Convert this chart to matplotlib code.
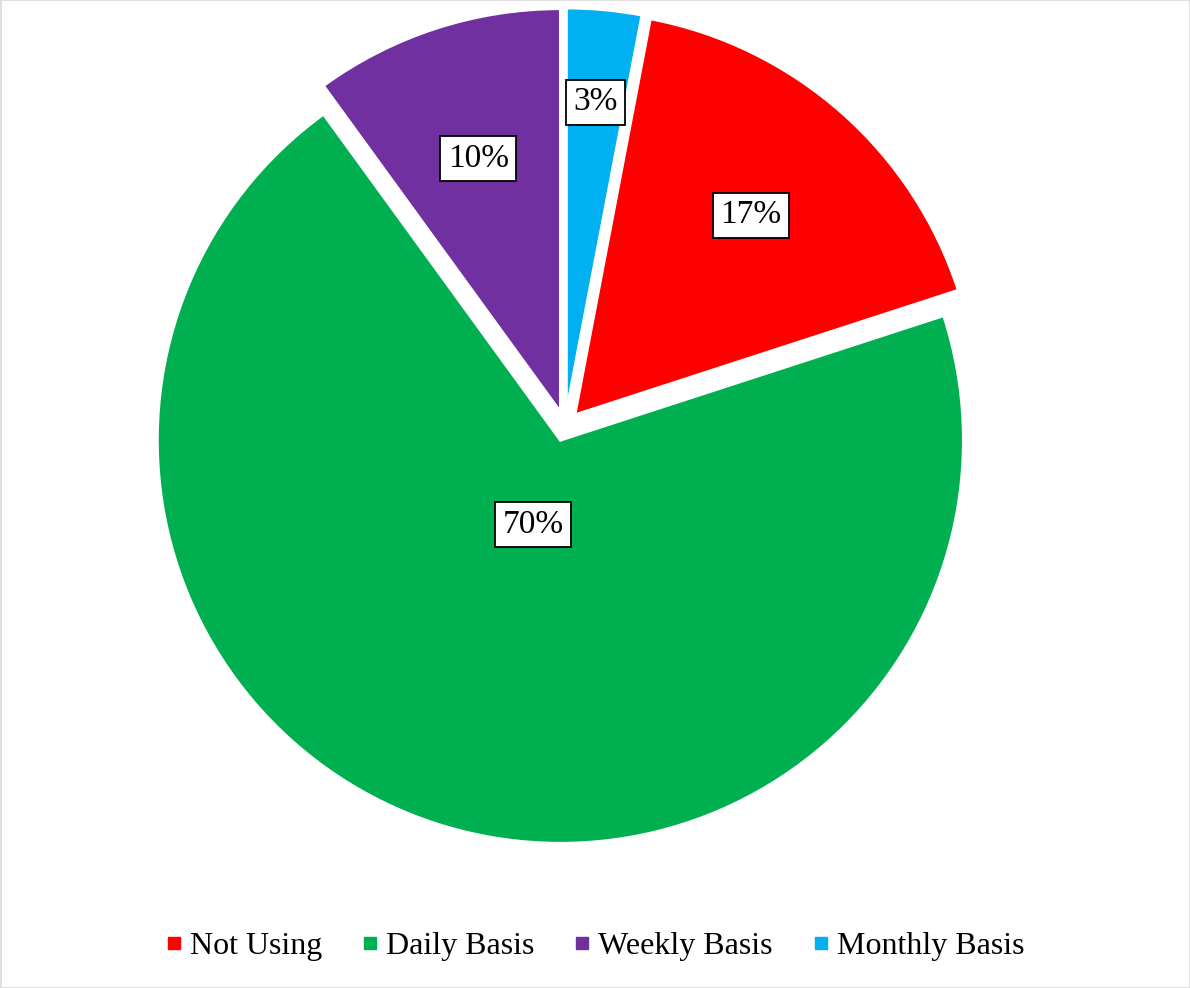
import numpy as np
import matplotlib
matplotlib.use('Agg')
import matplotlib.pyplot as plt
from matplotlib.lines import Line2D
from matplotlib.patches import Rectangle

# data
categories = ['Not Using', 'Daily Basis', 'Weekly Basis', 'Monthly Basis']
shares = [17, 70, 10, 3]
colors = ['#FF0000', '#00B050', '#7030A0', '#00B0F0']

# label distance from slice apex (fraction of radius)
label_dist = [0.66, 0.22, 0.66, 0.77]

plt.rcParams['font.family'] = ['Liberation Serif', 'DejaVu Serif']

W, H = 1190, 988
fig = plt.figure(figsize=(W / 100, H / 100), dpi=100)
ax = fig.add_axes([0, 0, 1, 1])

cx, cy, R = 565, H - 426, 403
# explode is in data units here (axes are in pixels)
wedges, _ = ax.pie(
    shares,
    colors=colors,
    startangle=90 - 360 * shares[-1] / 100,
    counterclock=False,
    explode=[15] * 4,
    center=(cx, cy),
    radius=R,
    wedgeprops=dict(edgecolor='white', linewidth=2),
)

for w, v, d in zip(wedges, shares, label_dist):
    ang = np.deg2rad((w.theta1 + w.theta2) / 2)
    x0, y0 = w.center
    ax.text(x0 + d * R * np.cos(ang), y0 + d * R * np.sin(ang), f'{v}%',
            ha='center', va='center', fontsize=24,
            bbox=dict(boxstyle='square,pad=0.22', fc='white', ec='black', lw=1.3))

ax.set_xlim(0, W)
ax.set_ylim(0, H)
ax.set_aspect('equal')
ax.axis('off')

handles = [Line2D([], [], marker='s', linestyle='none', markersize=8,
                  markerfacecolor=c, markeredgecolor=c) for c in colors]
fig.legend(handles, categories, loc='center', bbox_to_anchor=(0.5, 1 - 946 / H),
           ncol=4, frameon=False, fontsize=23, handletextpad=0.25,
           columnspacing=1.25, handlelength=0.5)

fig.add_artist(Rectangle((0.5 / W, 0.5 / H), 1 - 1 / W, 1 - 1 / H,
                         transform=fig.transFigure, fill=False,
                         edgecolor='#D9D9D9', linewidth=1.2))

fig.savefig('out.png', dpi=100)
